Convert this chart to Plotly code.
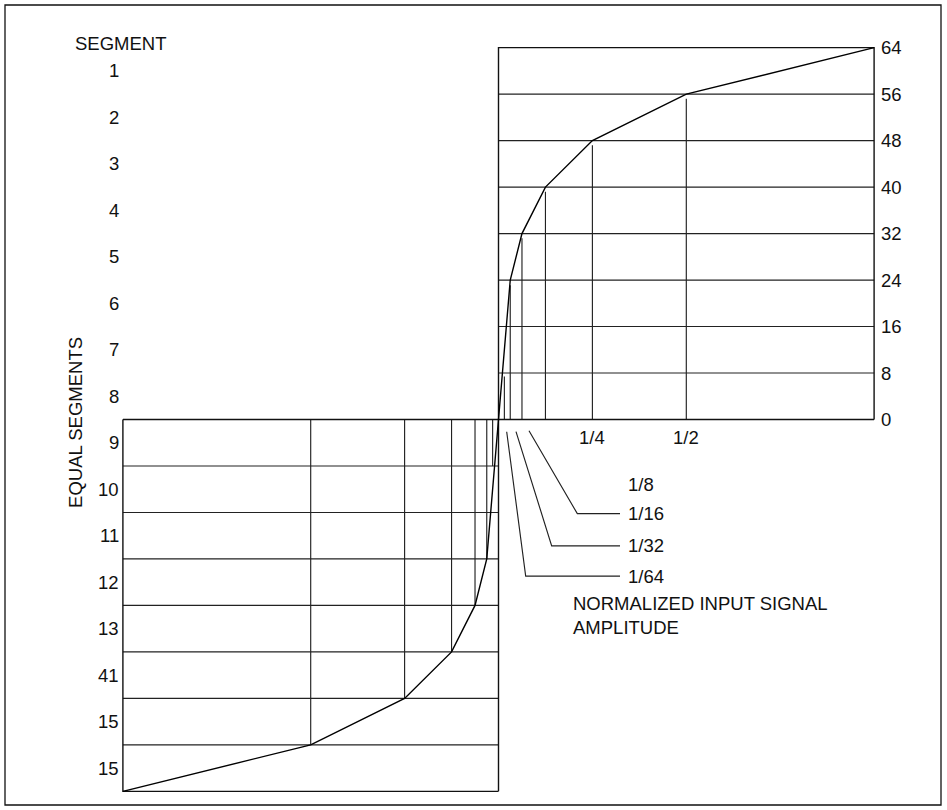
import plotly.graph_objects as go

# ---------------- data ----------------
seg_labels = ["1", "2", "3", "4", "5", "6", "7", "8",
              "9", "10", "11", "12", "13", "41", "15", "15"]
seg_row_y = [60, 52, 44, 36, 28, 20, 12, 4,
             -4, -12, -20, -28, -36, -44, -52, -60]

out_levels = [0, 8, 16, 24, 32, 40, 48, 56, 64]
out_labels = ["0", "8", "16", "24", "32", "40", "48", "56", "64"]

frac_vals = [1/64, 1/32, 1/16, 1/8, 1/4, 1/2]

# compressor characteristic (positive and negative halves)
curve_x_pos = [0, 1/32, 1/16, 1/8, 1/4, 1/2, 1]
curve_y_pos = [0, 24, 32, 40, 48, 56, 64]
curve_x_neg = [-1, -1/2, -1/4, -1/8, -1/16, -1/32, 0]
curve_y_neg = [-64, -56, -48, -40, -32, -24, 0]

# heights of the vertical drop lines
pos_vert_top = [7.4, 23.1, 31.2, 39.2, 47.2, 55.2]
neg_vert_bottom = [-8, -24, -32, -40, -48, -56]

# x-axis labels directly under the axis
axis_frac_labels = ["1/4", "1/2"]
axis_frac_x = [1/4, 1/2]

# leader-line labels
leader_labels = ["1/64", "1/32", "1/16"]
leader_start_x = [0.0218, 0.0466, 0.0812]
leader_start_y = [-2.1, -2.1, -1.95]
leader_elbow_x = [0.0724, 0.1416, 0.2098]
leader_y = [-26.95, -21.75, -16.2]
leader_end_x = 0.3235
free_label = "1/8"
free_label_y = -11.2
leader_text_x = 0.3395

# ---------------- figure ----------------
W, H = 947, 810
X0PX, XSCALE = 498.5, 375.6     # pixel of x=0, px per unit
Y0PX, YSCALE = 419.5, 5.81      # pixel of y=0, px per unit
xr = [(0 - X0PX) / XSCALE, (W - X0PX) / XSCALE]
yr = [(Y0PX - H) / YSCALE, Y0PX / YSCALE]

BOX = dict(color="#111111", width=1.4)
GRID = dict(color="#222222", width=1.15)
FONT = dict(family="Liberation Sans, Arial, sans-serif", size=18.5, color="#111111")

fig = go.Figure()

def seg_trace(xs, ys, line):
    fig.add_trace(go.Scatter(x=xs, y=ys, mode="lines", line=line,
                             hoverinfo="skip", showlegend=False))

# horizontal grid lines
hx, hy = [], []
for lv in out_levels[1:-1]:
    hx += [0, 1, None]; hy += [lv, lv, None]
    hx += [-1, 0, None]; hy += [-lv, -lv, None]
seg_trace(hx, hy, GRID)

# vertical drop lines
vx, vy = [], []
for f, t in zip(frac_vals, pos_vert_top):
    vx += [f, f, None]; vy += [0, t, None]
for f, b in zip(frac_vals, neg_vert_bottom):
    vx += [-f, -f, None]; vy += [0, b, None]
seg_trace(vx, vy, GRID)

# boxes
top = out_levels[-1]
seg_trace([0, 0, 1, 1, None, -1, 1],
          [-top, top, top, 0, None, 0, 0], BOX)
seg_trace([0, -1, -1],
          [-top, -top, 0], BOX)

# curve
seg_trace(curve_x_neg + curve_x_pos[1:], curve_y_neg + curve_y_pos[1:],
          dict(color="#000000", width=1.4))

# leader lines
lx, ly = [], []
for sx, sy, ex, yy in zip(leader_start_x, leader_start_y, leader_elbow_x, leader_y):
    lx += [sx, ex, leader_end_x, None]; ly += [sy, yy, yy, None]
seg_trace(lx, ly, GRID)

ann = []
# segment numbers
for t, y in zip(seg_labels, seg_row_y):
    ann.append(dict(x=-1, y=y, text=t, xanchor="right", yanchor="middle",
                    xshift=-2, showarrow=False, font=FONT))
ann.append(dict(x=-1.0058, y=64.7, text="SEGMENT", xanchor="center",
                yanchor="middle", showarrow=False, font=FONT))
ann.append(dict(x=-1.1262, y=-0.5, text="EQUAL SEGMENTS", textangle=-90,
                xanchor="center", yanchor="middle", showarrow=False, font=FONT))
# output levels on the right
for t, y in zip(out_labels, out_levels):
    ann.append(dict(x=1, y=y, text=t, xanchor="left", yanchor="middle",
                    xshift=5, showarrow=False, font=FONT))
# fractions
for t, x in zip(axis_frac_labels, axis_frac_x):
    ann.append(dict(x=x, y=-3.1, text=t, xanchor="center", yanchor="middle",
                    showarrow=False, font=FONT))
for t, y in zip(leader_labels, leader_y):
    ann.append(dict(x=leader_text_x, y=y, text=t, xanchor="left",
                    yanchor="middle", showarrow=False, font=FONT))
ann.append(dict(x=leader_text_x, y=free_label_y, text=free_label, xanchor="left",
                yanchor="middle", showarrow=False, font=FONT))
ann.append(dict(x=0.1917, y=-33.65, text="NORMALIZED INPUT SIGNAL<br>AMPLITUDE",
                xanchor="left", yanchor="middle", align="left",
                showarrow=False, font=FONT))

fig.update_layout(
    width=W, height=H, autosize=False,
    margin=dict(l=0, r=0, t=0, b=0, pad=0),
    paper_bgcolor="white", plot_bgcolor="white",
    xaxis=dict(range=xr, visible=False, fixedrange=True),
    yaxis=dict(range=yr, visible=False, fixedrange=True),
    annotations=ann,
    shapes=[dict(type="rect", xref="paper", yref="paper",
                 x0=5 / W, x1=941 / W, y0=1 - 805 / H, y1=1 - 5 / H,
                 line=dict(color="#111111", width=1.3))],
    showlegend=False,
)

fig.write_html("out.html", config={"displayModeBar": False},
               post_script="document.body.style.margin='0';document.body.style.overflow='hidden';")
